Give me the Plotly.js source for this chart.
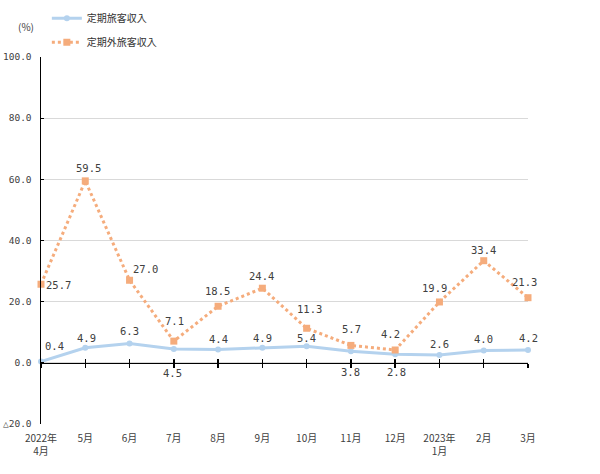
<!DOCTYPE html>
<html>
<head>
<meta charset="utf-8">
<script src="https://cdn.plot.ly/plotly-3.0.1.min.js"></script>
<style>
  html, body { margin: 0; padding: 0; background: #fff; }
  #chart { width: 600px; height: 474px; }
</style>
</head>
<body>
<div id="chart"></div>
<script>
const months = ["2022年<br>4月", "5月", "6月", "7月", "8月", "9月", "10月", "11月", "12月", "2023年<br>1月", "2月", "3月"];
const teikiValues = [0.4, 4.9, 6.3, 4.5, 4.4, 4.9, 5.4, 3.8, 2.8, 2.6, 4.0, 4.2];
const teikigaiValues = [25.7, 59.5, 27.0, 7.1, 18.5, 24.4, 11.3, 5.7, 4.2, 19.9, 33.4, 21.3];
const yTickVals = [-20, 0, 20, 40, 60, 80, 100];
const yTickText = ["△20.0", "0.0", "20.0", "40.0", "60.0", "80.0", "100.0"];

// label offsets in px [xshift, yshift]
const teikiShift = [[13, 16], [1, 10], [0, 13], [-1, -24], [0, 10], [0, 10], [0, 8], [0, -21], [1, -18], [0, 11], [0, 12], [0, 12]];
const teikigaiShift = [[17, -1], [3, 13], [16, 11], [1, 20], [-1, 15], [-1, 12], [3, 19], [1, 16], [-5, 16], [-5, 14], [0, 11], [-4, 16]];

const numFont = "DejaVu Sans Mono, monospace";
const jpFont = "Noto Sans CJK JP, sans-serif";
const textColor = "#404040";
const blue = "#B4D2EE";
const orange = "#F5AC7C";

const xIdx = months.map((m, i) => i);
const fmt = (v) => v.toFixed(1);

function labels(values, shifts) {
  return values.map((v, i) => ({
    x: i,
    y: v,
    xref: "x",
    yref: "y",
    text: fmt(v),
    showarrow: false,
    xanchor: "center",
    yanchor: "middle",
    xshift: shifts[i][0],
    yshift: shifts[i][1],
    font: { family: numFont, size: 10.5, color: textColor },
  }));
}

const data = [
  {
    x: xIdx,
    y: teikiValues,
    name: "定期旅客収入",
    type: "scatter",
    mode: "lines+markers",
    line: { color: blue, width: 3 },
    marker: { color: blue, size: 6, symbol: "circle" },
    legendgroup: "a",
    cliponaxis: false,
  },
  {
    x: xIdx,
    y: teikigaiValues,
    name: "定期外旅客収入",
    type: "scatter",
    mode: "lines+markers",
    line: { color: orange, width: 3, dash: "dot" },
    marker: { color: orange, size: 7, symbol: "square" },
    legendgroup: "b",
    cliponaxis: false,
  },
  // invisible helpers so the tick axes on the zero line get drawn
  { x: xIdx, y: teikiValues, xaxis: "x2", mode: "none", showlegend: false, hoverinfo: "skip" },
  { x: xIdx, y: teikiValues, xaxis: "x3", mode: "none", showlegend: false, hoverinfo: "skip" },
];

const zeroPos = 20 / 120;

const tickAxis = (ticks, line) => ({
  overlaying: "x",
  anchor: "free",
  position: zeroPos,
  range: [0, 11],
  tickmode: "array",
  tickvals: xIdx,
  showticklabels: false,
  showgrid: false,
  zeroline: false,
  showline: line,
  linecolor: "#000",
  linewidth: 1.5,
  ticks: ticks,
  ticklen: 4,
  tickcolor: "#000",
  tickwidth: 1.5,
  fixedrange: true,
});

const layout = {
  width: 600,
  height: 474,
  margin: { l: 41, r: 72, t: 57, b: 50, autoexpand: false },
  paper_bgcolor: "#fff",
  plot_bgcolor: "#fff",
  font: { family: jpFont, size: 10, color: textColor },
  showlegend: true,
  legend: {
    x: 0.012,
    y: 1.145,
    xanchor: "left",
    yanchor: "top",
    traceorder: "grouped",
    tracegroupgap: 5,
    itemwidth: 30,
    font: { family: jpFont, size: 10, color: "#333" },
    bgcolor: "rgba(0,0,0,0)",
  },
  xaxis: {
    range: [0, 11],
    tickmode: "array",
    tickvals: xIdx,
    ticktext: months,
    showgrid: false,
    zeroline: false,
    showline: false,
    ticks: "",
    ticklabelstandoff: 7,
    tickfont: { family: jpFont, size: 10, color: textColor },
    fixedrange: true,
  },
  xaxis2: tickAxis("outside", true),
  xaxis3: tickAxis("inside", false),
  yaxis: {
    range: [-20, 100],
    tickmode: "array",
    tickvals: yTickVals,
    ticktext: yTickText,
    showgrid: true,
    gridcolor: "#d9d9d9",
    gridwidth: 1,
    zeroline: false,
    showline: true,
    linecolor: "#000",
    linewidth: 1.5,
    ticks: "inside",
    ticklen: 3,
    tickcolor: "#000",
    ticklabelstandoff: 6,
    tickfont: { family: numFont, size: 9.5, color: textColor },
    fixedrange: true,
  },
  annotations: [
    ...labels(teikiValues, teikiShift),
    ...labels(teikigaiValues, teikigaiShift),
    {
      text: "(%)",
      xref: "paper",
      yref: "paper",
      x: -0.052,
      y: 1.083,
      xanchor: "left",
      yanchor: "middle",
      showarrow: false,
      font: { family: jpFont, size: 10, color: textColor },
    },
  ],
};

const config = { displayModeBar: false, staticPlot: true };

Plotly.newPlot("chart", data, layout, config);
</script>
</body>
</html>
